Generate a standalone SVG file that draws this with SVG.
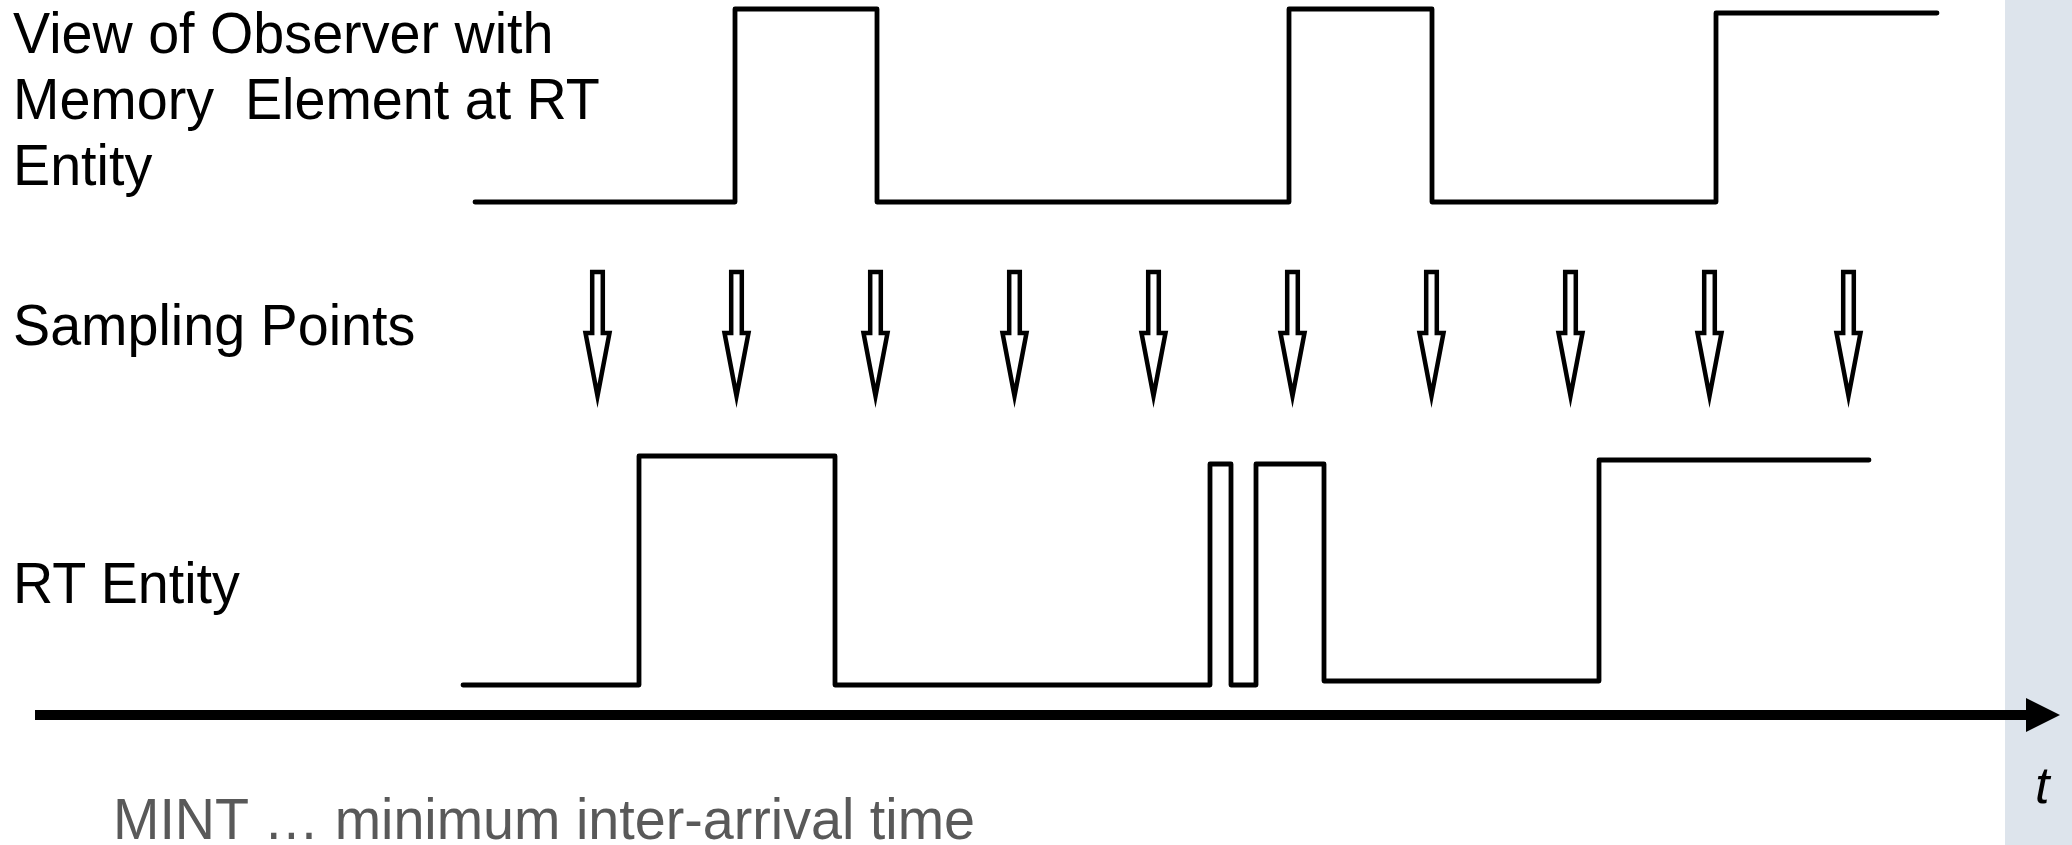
<svg xmlns="http://www.w3.org/2000/svg" width="2072" height="845" viewBox="0 0 2072 845">
  <style>
    .lbl { font-family: "Liberation Sans", Arial, sans-serif; font-size: 58px; fill: #000000; }
    .note { font-family: "Liberation Sans", Arial, sans-serif; font-size: 58px; fill: #595959; }
    .axis-t { font-family: "Liberation Sans", Arial, sans-serif; font-size: 52px; font-style: italic; fill: #000000; }
    .wave { fill: none; stroke: #000000; stroke-width: 4.8; stroke-linejoin: round; stroke-linecap: round; }
    .sample { fill: #ffffff; stroke: #000000; stroke-width: 4.5; stroke-linejoin: miter; stroke-miterlimit: 12; }
  </style>
  <defs>
    <!-- hollow down-pointing sampling arrow, centred on x=0 -->
    <polygon id="sampleArrow" class="sample" points="-5.3,272 5.3,272 5.3,333 12,333 0,396 -12,333 -5.3,333"/>
  </defs>

  <rect width="2072" height="845" fill="#ffffff"/>
  <!-- side panel -->
  <rect id="side-panel" x="2005" y="0" width="67" height="845" fill="#dde4ec"/>

  <!-- row labels (slightly condensed) -->
  <g id="label-observer" transform="translate(13,0) scale(0.96,1)">
    <text class="lbl" x="0" y="53">View of Observer with</text>
    <text class="lbl" x="0" y="119" xml:space="preserve">Memory  Element at RT</text>
    <text class="lbl" x="0" y="185">Entity</text>
  </g>
  <g id="label-sampling" transform="translate(13,0) scale(0.96,1)">
    <text class="lbl" x="0" y="345">Sampling Points</text>
  </g>
  <g id="label-entity" transform="translate(13,0) scale(0.96,1)">
    <text class="lbl" x="0" y="603">RT Entity</text>
  </g>

  <!-- observer view signal -->
  <g id="observer-signal">
    <path class="wave" d="M475,202 H735 V9 H877 V202 H1289 V9 H1432 V202 H1716 V13 H1937"/>
  </g>

  <!-- sampling points -->
  <g id="sampling-points">
    <use href="#sampleArrow" x="597.5"/>
    <use href="#sampleArrow" x="736.5"/>
    <use href="#sampleArrow" x="875.5"/>
    <use href="#sampleArrow" x="1014.5"/>
    <use href="#sampleArrow" x="1153.5"/>
    <use href="#sampleArrow" x="1292.5"/>
    <use href="#sampleArrow" x="1431.5"/>
    <use href="#sampleArrow" x="1570.5"/>
    <use href="#sampleArrow" x="1709.5"/>
    <use href="#sampleArrow" x="1848.5"/>
  </g>

  <!-- real-time entity signal -->
  <g id="entity-signal">
    <path class="wave" d="M463,685 H639 V456 H835 V685 H1210 V464 H1231 V685 H1256 V464 H1324 V681 H1599 V460 H1869"/>
  </g>

  <!-- time axis -->
  <g id="connectors">
    <line x1="35" y1="715" x2="2030" y2="715" stroke="#000000" stroke-width="10"/>
    <polygon points="2026,698 2060,715 2026,732" fill="#000000"/>
  </g>
  <g id="axis-label">
    <text class="axis-t" x="2035" y="803">t</text>
  </g>

  <!-- footnote -->
  <g id="footnote" transform="translate(113,0) scale(0.96,1)">
    <text class="note" x="0" y="839">MINT … minimum inter-arrival time</text>
  </g>
</svg>
